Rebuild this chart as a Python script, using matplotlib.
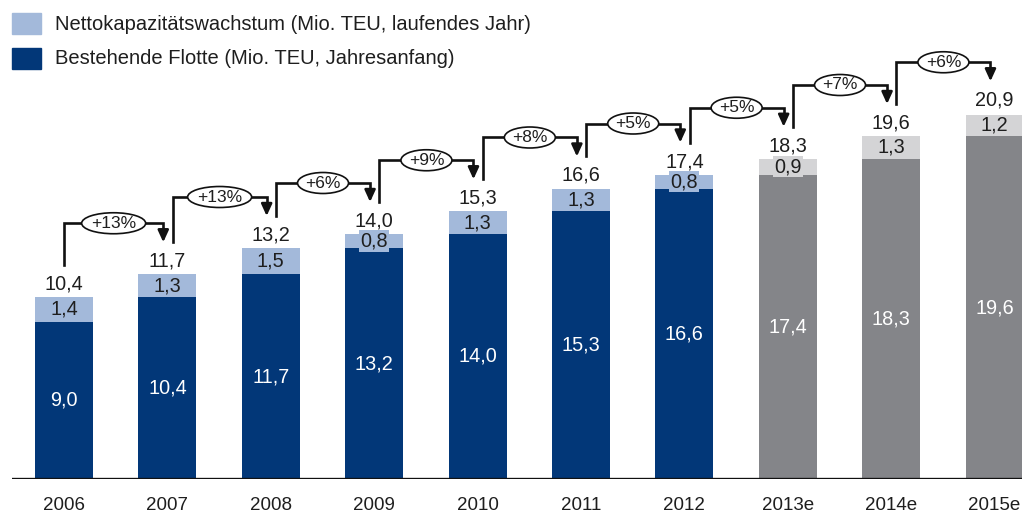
import matplotlib
matplotlib.use("Agg")
import matplotlib.pyplot as plt
from matplotlib.patches import Ellipse

plt.rcParams["font.family"] = ["Liberation Sans", "DejaVu Sans"]

# Daten
jahre = ["2006", "2007", "2008", "2009", "2010", "2011", "2012", "2013e", "2014e", "2015e"]
flotte = [9.0, 10.4, 11.7, 13.2, 14.0, 15.3, 16.6, 17.4, 18.3, 19.6]
wachstum = [1.4, 1.3, 1.5, 0.8, 1.3, 1.3, 0.8, 0.9, 1.3, 1.2]
gesamt = [10.4, 11.7, 13.2, 14.0, 15.3, 16.6, 17.4, 18.3, 19.6, 20.9]
prozent = ["+13%", "+13%", "+6%", "+9%", "+8%", "+5%", "+5%", "+7%", "+6%"]
prognose = [False] * 7 + [True] * 3

# Farben
DUNKEL = "#023778"
HELL = "#a3b9da"
GRAU = "#848589"
GRAU_CL = "#d4d4d6"
TXT = "#1e1e1e"

W, H = 1022, 514
PX = 17.5  # Pixel je Mio. TEU
fig = plt.figure(figsize=(W / 100, H / 100), dpi=100)
ax = fig.add_axes([12 / W, 35 / H, 1010 / W, 479 / H])
ax.set_ylim(0, 479 / PX)
ax.set_xlim(-0.503, -0.503 + 1010 / 103.4)
ax.axis("off")
ax.axhline(0, color="#111111", lw=2.4, zorder=5)

xs = list(range(len(jahre)))
bw = 0.56
c_dark = [GRAU if p else DUNKEL for p in prognose]
c_light = [GRAU_CL if p else HELL for p in prognose]
ax.bar(xs, flotte, bw, color=c_dark, zorder=2)
ax.bar(xs, wachstum, bw, bottom=flotte, color=c_light, zorder=2)

FS = 14.3
u = 1.0 / PX  # eine Pixelhöhe in Dateneinheiten
for i in xs:
    ax.text(i, flotte[i] / 2, f"{flotte[i]:.1f}".replace(".", ","), ha="center", va="center",
            fontsize=FS, color="white", zorder=4)
    ax.text(i, flotte[i] + wachstum[i] / 2, f"{wachstum[i]:.1f}".replace(".", ","),
            ha="center", va="center", fontsize=FS, color=TXT, zorder=4,
            bbox=dict(fc=c_light[i], ec="none", pad=0.8))
    ax.text(i, gesamt[i] + 13 * u, f"{gesamt[i]:.1f}".replace(".", ","), ha="center",
            va="center", fontsize=FS, color=TXT, zorder=4)

# Klammern mit Wachstumsraten
for i, lab in enumerate(prozent):
    x0 = i + (0.0 if i == 0 else 0.05)
    x1 = i + 1 - 0.04
    y0 = gesamt[i] + 32 * u
    yh = gesamt[i + 1] + 51 * u
    y1 = gesamt[i + 1] + 32 * u
    ax.plot([x0, x0, x1, x1], [y0, yh, yh, y1 + 8 * u], color="#111111", lw=1.9,
            solid_joinstyle="miter", zorder=3)
    ax.annotate("", xy=(x1, y1), xytext=(x1, y1 + 10 * u),
                arrowprops=dict(arrowstyle="-|>,head_width=0.32,head_length=0.7",
                                color="#111111", lw=1.9, shrinkA=0, shrinkB=0), zorder=3)
    xm = (x0 + x1) / 2
    ew = 13 * len(lab) + 12
    ax.add_patch(Ellipse((xm, yh), ew / 103.4, 21 * u, fc="white", ec="#111111",
                         lw=1.2, zorder=4))
    ax.text(xm, yh, lab, ha="center", va="center", fontsize=12.5, color=TXT, zorder=5)

# Jahreszahlen
for i, j in enumerate(jahre):
    ax.text(i, -26 * u, j, ha="center", va="center", fontsize=13.5, color=TXT,
            clip_on=False)

# Legende
fig.patches.append(plt.Rectangle((12 / W, 1 - 34 / H), 29 / W, 21 / H, color=HELL,
                                 transform=fig.transFigure))
fig.patches.append(plt.Rectangle((12 / W, 1 - 69 / H), 29 / W, 21 / H, color=DUNKEL,
                                 transform=fig.transFigure))
fig.text(55 / W, 1 - 24 / H, "Nettokapazitätswachstum (Mio. TEU, laufendes Jahr)",
         ha="left", va="center", fontsize=14.5, color=TXT)
fig.text(55 / W, 1 - 59 / H, "Bestehende Flotte (Mio. TEU, Jahresanfang)",
         ha="left", va="center", fontsize=14.5, color=TXT)

fig.savefig("out.png", dpi=100)
